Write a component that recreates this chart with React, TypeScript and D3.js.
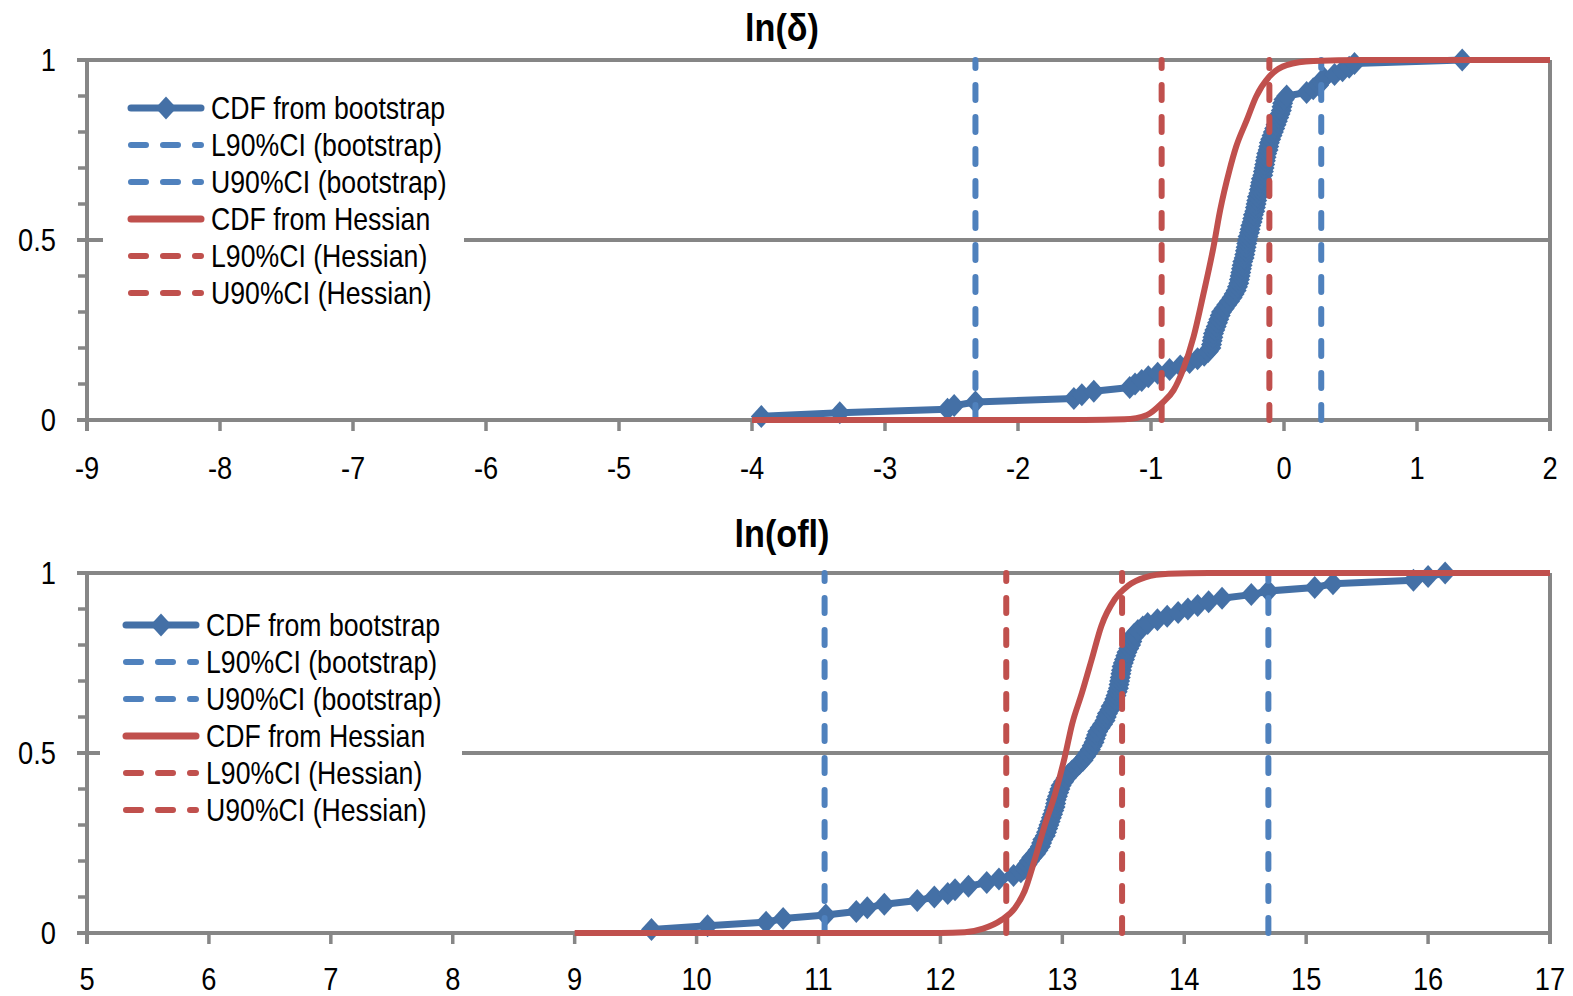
import React from "react";
import * as d3 from "d3";

// ---------- DATA ----------
const deltaTitle = "ln(δ)";
const oflTitle = "ln(ofl)";

const deltaXTicks = [-9, -8, -7, -6, -5, -4, -3, -2, -1, 0, 1, 2];
const oflXTicks = [5, 6, 7, 8, 9, 10, 11, 12, 13, 14, 15, 16, 17];
const yTickLabels = [0, 0.5, 1];
const yMinorTicks = [0, 0.1, 0.2, 0.3, 0.4, 0.5, 0.6, 0.7, 0.8, 0.9, 1];

const legendLabels = [
  "CDF from bootstrap",
  "L90%CI (bootstrap)",
  "U90%CI (bootstrap)",
  "CDF from Hessian",
  "L90%CI (Hessian)",
  "U90%CI (Hessian)",
];

// CDF from bootstrap, ln(delta): [x, cumulative probability]
const deltaBoot: [number, number][] = [
  [-3.93, 0.01], [-3.34, 0.02], [-2.53, 0.03], [-2.48, 0.04], [-2.32, 0.05], [-1.58, 0.06], [-1.52, 0.07], [-1.43, 0.08],
  [-1.16, 0.09], [-1.12, 0.1], [-1.07, 0.11], [-1.02, 0.12], [-0.95, 0.13], [-0.86, 0.14], [-0.78, 0.15], [-0.71, 0.16],
  [-0.65, 0.17], [-0.6, 0.18], [-0.57, 0.19], [-0.55, 0.2], [-0.545, 0.21], [-0.54, 0.22], [-0.535, 0.23], [-0.53, 0.24],
  [-0.52, 0.25], [-0.51, 0.26], [-0.5, 0.27], [-0.49, 0.28], [-0.48, 0.29], [-0.47, 0.3], [-0.45, 0.31], [-0.43, 0.32],
  [-0.41, 0.33], [-0.39, 0.34], [-0.375, 0.35], [-0.36, 0.36], [-0.35, 0.37], [-0.34, 0.38], [-0.335, 0.39], [-0.33, 0.4],
  [-0.325, 0.41], [-0.32, 0.42], [-0.315, 0.43], [-0.31, 0.44], [-0.3, 0.45], [-0.295, 0.46], [-0.29, 0.47], [-0.285, 0.48],
  [-0.28, 0.49], [-0.275, 0.5], [-0.27, 0.51], [-0.26, 0.52], [-0.255, 0.53], [-0.25, 0.54], [-0.24, 0.55], [-0.235, 0.56],
  [-0.23, 0.57], [-0.22, 0.58], [-0.215, 0.59], [-0.21, 0.6], [-0.205, 0.61], [-0.2, 0.62], [-0.19, 0.63], [-0.185, 0.64],
  [-0.18, 0.65], [-0.175, 0.66], [-0.17, 0.67], [-0.16, 0.68], [-0.155, 0.69], [-0.15, 0.7], [-0.145, 0.71], [-0.14, 0.72],
  [-0.135, 0.73], [-0.13, 0.74], [-0.12, 0.75], [-0.115, 0.76], [-0.11, 0.77], [-0.1, 0.78], [-0.09, 0.79], [-0.08, 0.8],
  [-0.07, 0.81], [-0.06, 0.82], [-0.05, 0.83], [-0.04, 0.84], [-0.03, 0.85], [-0.02, 0.86], [-0.015, 0.87], [-0.01, 0.88],
  [0.0, 0.89], [0.02, 0.9], [0.17, 0.91], [0.22, 0.92], [0.26, 0.93], [0.28, 0.94], [0.3, 0.95], [0.38, 0.96],
  [0.44, 0.97], [0.49, 0.98], [0.53, 0.99], [1.34, 1.0],
];

// CDF from Hessian, ln(delta)
const deltaHess: [number, number][] = [
  [-4, 0], [-3, 0], [-2, 0], [-1.5, 0], [-1.2, 0.002], [-1.03, 0.014], [-0.92, 0.046], [-0.83, 0.083],
  [-0.76, 0.139], [-0.68, 0.231], [-0.61, 0.343], [-0.53, 0.481], [-0.48, 0.583], [-0.41, 0.694], [-0.36, 0.759],
  [-0.28, 0.833], [-0.21, 0.898], [-0.11, 0.954], [0.02, 0.986], [0.22, 0.997], [0.6, 1], [2, 1],
];

// 90% CI bounds, ln(delta)
const deltaBootCI = [-2.32, 0.28];
const deltaHessCI = [-0.92, -0.11];

// CDF from bootstrap, ln(ofl)
const oflBoot: [number, number][] = [
  [9.63, 0.01], [10.09, 0.02], [10.57, 0.03], [10.71, 0.04], [11.06, 0.05], [11.31, 0.06], [11.4, 0.07], [11.54, 0.08],
  [11.81, 0.09], [11.95, 0.1], [12.06, 0.11], [12.12, 0.12], [12.23, 0.13], [12.38, 0.14], [12.48, 0.15], [12.6, 0.16],
  [12.66, 0.17], [12.69, 0.18], [12.71, 0.19], [12.73, 0.2], [12.75, 0.21], [12.78, 0.22], [12.8, 0.23], [12.82, 0.24],
  [12.83, 0.25], [12.84, 0.26], [12.86, 0.27], [12.87, 0.28], [12.88, 0.29], [12.89, 0.3], [12.9, 0.31], [12.91, 0.32],
  [12.92, 0.33], [12.93, 0.34], [12.94, 0.35], [12.945, 0.36], [12.95, 0.37], [12.96, 0.38], [12.97, 0.39], [12.98, 0.4],
  [12.99, 0.41], [13.01, 0.42], [13.03, 0.43], [13.05, 0.44], [13.08, 0.45], [13.11, 0.46], [13.14, 0.47], [13.17, 0.48],
  [13.19, 0.49], [13.21, 0.5], [13.23, 0.51], [13.245, 0.52], [13.26, 0.53], [13.27, 0.54], [13.28, 0.55], [13.29, 0.56],
  [13.31, 0.57], [13.33, 0.58], [13.35, 0.59], [13.36, 0.6], [13.37, 0.61], [13.39, 0.62], [13.4, 0.63], [13.42, 0.64],
  [13.43, 0.65], [13.44, 0.66], [13.45, 0.67], [13.46, 0.68], [13.465, 0.69], [13.47, 0.7], [13.475, 0.71], [13.48, 0.72],
  [13.485, 0.73], [13.49, 0.74], [13.5, 0.75], [13.51, 0.76], [13.52, 0.77], [13.53, 0.78], [13.545, 0.79], [13.56, 0.8],
  [13.57, 0.81], [13.58, 0.82], [13.59, 0.83], [13.62, 0.84], [13.66, 0.85], [13.7, 0.86], [13.78, 0.87], [13.86, 0.88],
  [13.95, 0.89], [14.03, 0.9], [14.11, 0.91], [14.2, 0.92], [14.31, 0.93], [14.55, 0.94], [14.69, 0.95], [15.07, 0.96],
  [15.22, 0.97], [15.88, 0.98], [16.0, 0.99], [16.14, 1.0],
];

// CDF from Hessian, ln(ofl)
const oflHess: [number, number][] = [
  [9, 0], [10, 0], [11, 0], [12, 0], [12.2, 0.002], [12.35, 0.012], [12.5, 0.036], [12.61, 0.069], [12.69, 0.116],
  [12.77, 0.2], [12.85, 0.293], [12.94, 0.386], [13.02, 0.489], [13.08, 0.58], [13.16, 0.666], [13.24, 0.759],
  [13.32, 0.853], [13.43, 0.927], [13.54, 0.965], [13.68, 0.988], [13.87, 0.998], [14.2, 1], [17, 1],
];

const oflBootCI = [11.05, 14.69];
const oflHessCI = [12.54, 13.49];

// ---------- STYLE ----------
const BLUE = "#4470A6";
const BLUE_DASH = "#4F81BD";
const RED = "#C0504D";
const GRAY = "#868686";
const FONT = "'Liberation Sans', Arial, sans-serif";
const DASH = "15 17";

type PanelProps = {
  title: string;
  xDomain: [number, number];
  xTicks: number[];
  boot: [number, number][];
  hess: [number, number][];
  bootCI: number[];
  hessCI: number[];
  top: number;
  bottom: number;
  titleY: number;
  labelY: number;
  legendX: number;
  legendY: number;
  legendBox: [number, number, number, number];
};

const Diamond = ({ cx, cy }: { cx: number; cy: number }) => (
  <path d={`M${cx},${cy - 11.5}L${cx + 10.5},${cy}L${cx},${cy + 11.5}L${cx - 10.5},${cy}Z`} fill={BLUE} />
);

// text condensed horizontally around its anchor point (Calibri-like proportions)
const CText = ({
  x,
  y,
  anchor,
  size,
  sx,
  bold,
  children,
}: {
  x: number;
  y: number;
  anchor: "start" | "middle" | "end";
  size: number;
  sx: number;
  bold?: boolean;
  children: React.ReactNode;
}) => (
  <text
    transform={`translate(${x},${y}) scale(${sx},1)`}
    textAnchor={anchor}
    fontFamily={FONT}
    fontSize={size}
    fontWeight={bold ? "bold" : "normal"}
    fill="#000"
  >
    {children}
  </text>
);

function Panel(p: PanelProps) {
  const left = 87;
  const right = 1550;
  const x = d3.scaleLinear().domain(p.xDomain).range([left, right]);
  const y = d3.scaleLinear().domain([0, 1]).range([p.bottom, p.top]);
  const straight = d3.line<[number, number]>().x((d) => x(d[0])).y((d) => y(d[1]));
  const smooth = d3
    .line<[number, number]>()
    .x((d) => x(d[0]))
    .y((d) => y(d[1]))
    .curve(d3.curveMonotoneX);

  const ciLine = (v: number, color: string, key: string) => (
    <line
      key={key}
      x1={x(v)}
      x2={x(v)}
      y1={y(0)}
      y2={y(1)}
      stroke={color}
      strokeWidth={6}
      strokeDasharray={DASH}
      strokeLinecap="round"
    />
  );

  const legendStyles = [
    { color: BLUE, dash: null, marker: true },
    { color: BLUE_DASH, dash: DASH, marker: false },
    { color: BLUE_DASH, dash: DASH, marker: false },
    { color: RED, dash: null, marker: false },
    { color: RED, dash: DASH, marker: false },
    { color: RED, dash: DASH, marker: false },
  ];

  return (
    <g>
      <CText x={782} y={p.titleY} anchor="middle" size={38} sx={0.9} bold>
        {p.title}
      </CText>
      {[0.5, 1].map((v) => (
        <line key={"g" + v} x1={left - 10} x2={right} y1={y(v)} y2={y(v)} stroke={GRAY} strokeWidth={4} />
      ))}
      <line x1={right} x2={right} y1={y(1)} y2={y(0) + 11} stroke={GRAY} strokeWidth={4} />
      <line x1={left} x2={left} y1={y(1) - 2} y2={y(0) + 11} stroke={GRAY} strokeWidth={4} />
      {yMinorTicks.map((v) => (
        <line key={"m" + v} x1={left - 9} x2={left} y1={y(v)} y2={y(v)} stroke={GRAY} strokeWidth={3.5} />
      ))}
      {yTickLabels.map((v) => (
        <CText key={"yl" + v} x={56} y={y(v) + 11} anchor="end" size={31} sx={0.88}>
          {String(v)}
        </CText>
      ))}
      <line x1={left - 10} x2={right} y1={y(0)} y2={y(0)} stroke={GRAY} strokeWidth={4} />
      {p.xTicks.map((v) => (
        <g key={"xt" + v}>
          <line x1={x(v)} x2={x(v)} y1={y(0)} y2={y(0) + 11} stroke={GRAY} strokeWidth={3.5} />
          <CText x={x(v)} y={p.labelY} anchor="middle" size={31} sx={0.88}>
            {String(v)}
          </CText>
        </g>
      ))}

      <rect x={p.legendBox[0]} y={p.legendBox[1]} width={p.legendBox[2]} height={p.legendBox[3]} fill="#fff" />

      <path d={straight(p.boot) || ""} fill="none" stroke={BLUE} strokeWidth={7} strokeLinejoin="round" />
      {p.boot.map((d, i) => (
        <Diamond key={"d" + i} cx={x(d[0])} cy={y(d[1])} />
      ))}
      {ciLine(p.bootCI[0], BLUE_DASH, "bl")}
      {ciLine(p.bootCI[1], BLUE_DASH, "bu")}
      <path d={smooth(p.hess) || ""} fill="none" stroke={RED} strokeWidth={6} strokeLinejoin="round" />
      {ciLine(p.hessCI[0], RED, "hl")}
      {ciLine(p.hessCI[1], RED, "hu")}

      {legendLabels.map((lab, i) => {
        const ly = p.legendY + i * 37;
        const s = legendStyles[i];
        return (
          <g key={"lg" + i}>
            <line
              x1={p.legendX + 3}
              x2={p.legendX + 73}
              y1={ly}
              y2={ly}
              stroke={s.color}
              strokeWidth={s.dash ? 6 : 7}
              strokeLinecap="round"
              strokeDasharray={s.dash || undefined}
            />
            {s.marker && <Diamond cx={p.legendX + 38} cy={ly} />}
            <CText x={p.legendX + 83} y={ly + 11} anchor="start" size={31} sx={0.86}>
              {lab}
            </CText>
          </g>
        );
      })}
    </g>
  );
}

export default function App() {
  return (
    <div style={{ position: "absolute", left: 0, top: 0 }}>
      <svg width={1573} height={996} style={{ display: "block", background: "#fff" }}>
        <Panel
          title={deltaTitle}
          xDomain={[-9, 2]}
          xTicks={deltaXTicks}
          boot={deltaBoot}
          hess={deltaHess}
          bootCI={deltaBootCI}
          hessCI={deltaHessCI}
          top={60}
          bottom={420}
          titleY={41}
          labelY={479}
          legendX={128}
          legendY={108}
          legendBox={[103, 85, 361, 230]}
        />
        <Panel
          title={oflTitle}
          xDomain={[5, 17]}
          xTicks={oflXTicks}
          boot={oflBoot}
          hess={oflHess}
          bootCI={oflBootCI}
          hessCI={oflHessCI}
          top={573}
          bottom={933}
          titleY={547}
          labelY={990}
          legendX={123}
          legendY={625}
          legendBox={[100, 600, 362, 230]}
        />
      </svg>
    </div>
  );
}
